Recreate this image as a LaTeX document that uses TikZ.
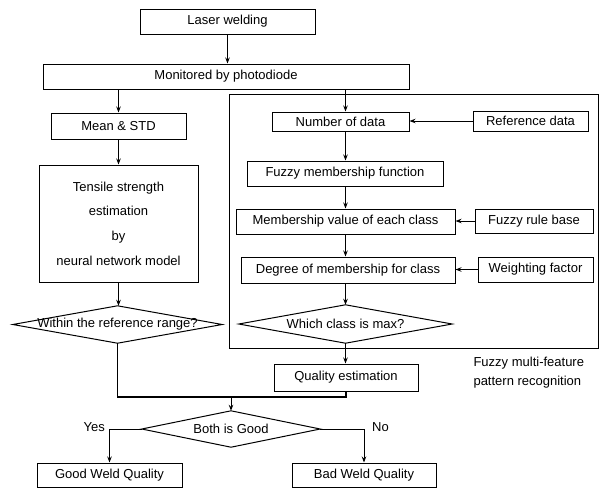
\documentclass[tikz,border=0pt]{standalone}
\usepackage{fontspec}
\setmainfont{Liberation Sans}
\usetikzlibrary{arrows.meta}
\begin{document}
\begin{tikzpicture}[x=1pt,y=-1pt,
  txt/.style={font=\fontsize{13}{15}\selectfont},
  box/.style={draw, line width=1pt, inner sep=0pt, txt},
  dia/.style={inner sep=0pt, txt},
  arr/.style={-{Stealth[length=6pt,width=4.5pt]}, line width=1pt},
  ln/.style={line width=1pt},
  thk/.style={line width=1.6pt},
]
\useasboundingbox (0,0) rectangle (605,488);
% outer fuzzy frame
\node[draw, line width=1pt, minimum width=369pt, minimum height=254pt, inner sep=0pt] (outer) at (413.5,221) {};
% boxes
\node[box, minimum width=175pt, minimum height=25pt] (laser) at (227.5,21.5) {Laser welding};
\node[box, minimum width=366pt, minimum height=25pt] (monitor) at (226,76.5) {Monitored by photodiode};
\node[box, minimum width=135pt, minimum height=26pt] (mean) at (118.5,126) {Mean \& STD};
\node[box, minimum width=137pt, minimum height=19pt] (number) at (340.5,121.5) {Number of data};
\node[box, minimum width=115pt, minimum height=20pt] (ref) at (530.5,121) {Reference data};
\node[box, minimum width=196pt, minimum height=25pt] (fmf) at (345,173.5) {Fuzzy membership function};
\node[box, minimum width=219pt, minimum height=25pt] (mval) at (345.5,221.5) {Membership value of each class};
\node[box, minimum width=118pt, minimum height=24pt] (frb) at (534,221) {Fuzzy rule base};
\node[box, minimum width=214pt, minimum height=26pt] (deg) at (348,270) {Degree of membership for class};
\node[box, minimum width=115pt, minimum height=25pt] (wf) at (535.5,269.5) {Weighting factor};
\node[dia, minimum width=213pt, minimum height=38pt] (which) at (345.5,324) {Which class is max?};
\draw[ln] (which.west) -- (which.north) -- (which.east) -- (which.south) -- cycle;
\node[box, minimum width=159pt, minimum height=117pt, align=center,
      font=\fontsize{13}{24.7}\selectfont] (tensile) at (118.5,223.5)
      {Tensile strength\\estimation\\by\\neural network model};
\node[dia, minimum width=209pt, minimum height=37pt] (within) at (117.5,324.5) {Within the reference range?};
\draw[ln] (within.west) -- (within.north) -- (within.east) -- (within.south) -- cycle;
\node[box, minimum width=144pt, minimum height=27pt] (quality) at (346,377.5) {Quality estimation};
\node[dia, minimum width=178pt, minimum height=36pt] (both) at (231,429) {Both is Good};
\draw[ln] (both.west) -- (both.north) -- (both.east) -- (both.south) -- cycle;
\node[box, minimum width=145pt, minimum height=24pt] (good) at (109.5,475) {Good Weld Quality};
\node[box, minimum width=144pt, minimum height=24pt] (bad) at (364,475) {Bad Weld Quality};
\node[txt, anchor=west, align=left, font=\fontsize{13}{19}\selectfont] (flabel) at (470,372.5)
      {Fuzzy multi-feature\\pattern recognition};
% connectors
\draw[arr] (laser.south) -- (laser.south |- monitor.north);
\draw[arr] (mean.north |- monitor.south) -- (mean.north);
\draw[arr] (which.north |- monitor.south) -- (which.north |- number.north);
\draw[arr] (ref.west) -- (ref.west -| number.east);
\draw[arr] (which.north |- number.south) -- (which.north |- fmf.north);
\draw[arr] (which.north |- fmf.south) -- (which.north |- mval.north);
\draw[arr] (frb.west) -- (frb.west -| mval.east);
\draw[arr] (which.north |- mval.south) -- (which.north |- deg.north);
\draw[arr] (wf.west) -- (wf.west -| deg.east);
\draw[arr] (which.north |- deg.south) -- (which.north);
\draw[arr] (mean.south) -- (mean.south |- tensile.north);
\draw[arr, line width=1.4pt] (tensile.south) -- (tensile.south |- within.north);
\draw[arr] (which.south) -- (which.south |- quality.north);
\coordinate (jL) at (117.5,397);
\draw[thk] (within.south) -- (jL) -- (jL -| quality.south) -- (quality.south);
\draw[arr] (jL -| both.north) -- (both.north);
\draw[arr] (both.west) -| (good.north);
\draw[arr] (both.east) -| (bad.north);
\node[txt, anchor=east, inner sep=0pt] (yes) at (105,427) {Yes};
\node[txt, anchor=west, inner sep=0pt] (no) at (372,427) {No};
\end{tikzpicture}
\end{document}
